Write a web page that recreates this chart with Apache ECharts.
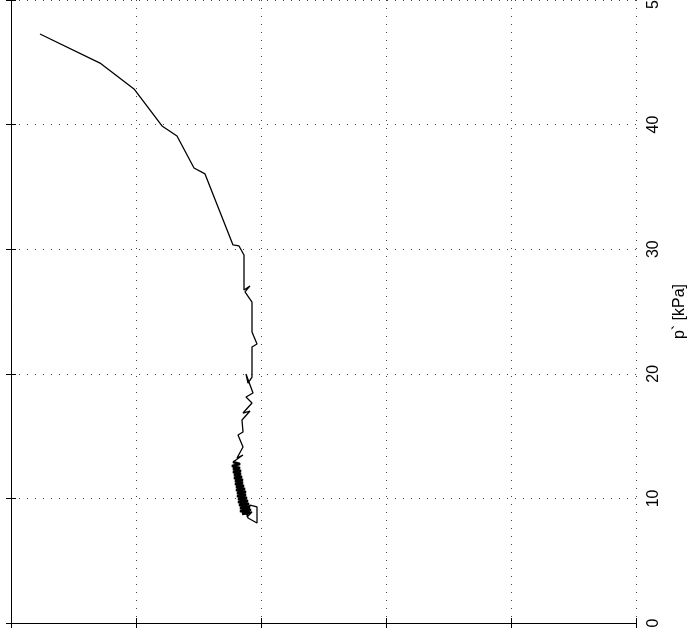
<!DOCTYPE html>
<html>
<head>
<meta charset="utf-8">
<script src="https://cdn.jsdelivr.net/npm/echarts@6/dist/echarts.min.js"></script>
<style>html,body{margin:0;padding:0;background:#fff;}#c{width:689px;height:635px;}</style>
</head>
<body>
<div id="c"></div>
<script>
// horizontal axis: q (unlabelled in the visible part), vertical axis: p' [kPa]
const pTicks = [0, 10, 20, 30, 40, 50];
const qValues = [
  2.32, 7.12, 9.84, 12.08, 13.28, 14.64, 15.52, 17.76, 18.24, 18.64,
  18.64, 19.12, 18.72, 18.88, 19.28, 19.28, 19.68, 19.28, 19.28, 18.96,
  18.80, 19.36, 18.80, 19.28, 18.56, 19.12, 18.48, 18.56, 18.16, 18.56,
  18.08, 18.56, 17.76, 18.32, 17.68, 18.32, 17.76, 18.40, 17.76, 18.40,
  17.84, 18.48, 17.84, 18.56, 17.92, 18.56, 17.92, 18.64, 18.00, 18.72,
  18.00, 18.80, 18.08, 18.80, 18.08, 18.88, 18.16, 18.96, 18.16, 19.04,
  18.24, 19.12, 18.32, 19.20, 18.32, 19.12, 18.48,
  19.28, 18.88, 19.12, 19.68, 19.68, 18.96, 18.80, 19.12
];
const pValues = [
  47.27, 44.94, 42.86, 39.89, 39.09, 36.52, 36.04, 30.34, 30.26, 29.53,
  26.73, 27.05, 26.57, 26.48, 25.76, 23.35, 22.39, 22.15, 19.74, 19.26,
  19.98, 18.46, 18.14, 17.66, 16.85, 17.01, 16.29, 15.33, 15.09, 14.13,
  13.24, 13.48, 12.92, 12.76, 12.60, 12.44, 12.36, 12.20, 12.12, 11.96,
  11.88, 11.72, 11.64, 11.48, 11.40, 11.24, 11.16, 11.00, 10.92, 10.75,
  10.67, 10.51, 10.43, 10.27, 10.19, 10.03, 9.95, 9.79, 9.71, 9.55,
  9.47, 9.31, 9.23, 9.07, 8.99, 8.83, 8.75,
  8.91, 8.51, 9.47, 9.31, 8.03, 8.43, 8.91, 8.75
];
// index range of the densely overlapping cycles
const denseStart = 32;
const denseEnd = 67;
const axisName = "p` [kPa]";

const data = qValues.map((q, i) => [q, pValues[i]]);
const chart = echarts.init(document.getElementById('c'), null, {renderer: 'canvas'});
const fontFamily = 'Liberation Sans, Arial, Helvetica, sans-serif';
const dotted = {show: true, lineStyle: {color: '#444', type: [1, 7], width: 1}};
const boxAxis = {
  axisLine: {show: true, lineStyle: {color: '#000', width: 1}},
  axisTick: {show: true, inside: true, length: 5, lineStyle: {color: '#000'}}
};
chart.setOption({
  animation: false,
  backgroundColor: '#fff',
  grid: {left: 11, right: 53, top: 0, bottom: 12, containLabel: false, outerBoundsMode: 'none'},
  xAxis: [
    Object.assign({type: 'value', position: 'bottom', min: 0, max: 50, interval: 10,
      axisLabel: {show: false}, splitLine: dotted}, boxAxis),
    Object.assign({type: 'value', position: 'top', min: 0, max: 50, interval: 10,
      axisLabel: {show: false}, splitLine: {show: false}}, boxAxis)
  ],
  yAxis: [
    Object.assign({type: 'value', position: 'right', min: pTicks[0], max: pTicks[pTicks.length - 1], interval: 10,
      name: axisName, nameLocation: 'middle', nameRotate: 90, nameGap: 36,
      nameTextStyle: {color: '#000', fontSize: 16, fontFamily: fontFamily},
      axisLabel: {show: true, rotate: 90, margin: 10, color: '#000', fontSize: 16, fontFamily: fontFamily,
        showMaxLabel: true, showMinLabel: true},
      splitLine: dotted}, boxAxis),
    Object.assign({type: 'value', position: 'left', min: 0, max: 50, interval: 10,
      axisLabel: {show: false}, splitLine: {show: false}}, boxAxis)
  ],
  series: [{
    type: 'line', data: data, xAxisIndex: 0, yAxisIndex: 0,
    showSymbol: false, symbol: 'none',
    lineStyle: {color: '#000', width: 1.3}
  }, {
    type: 'line', data: data.slice(denseStart, denseEnd), xAxisIndex: 0, yAxisIndex: 0,
    showSymbol: false, symbol: 'none',
    lineStyle: {color: '#000', width: 2.6}
  }]
});
</script>
</body>
</html>
